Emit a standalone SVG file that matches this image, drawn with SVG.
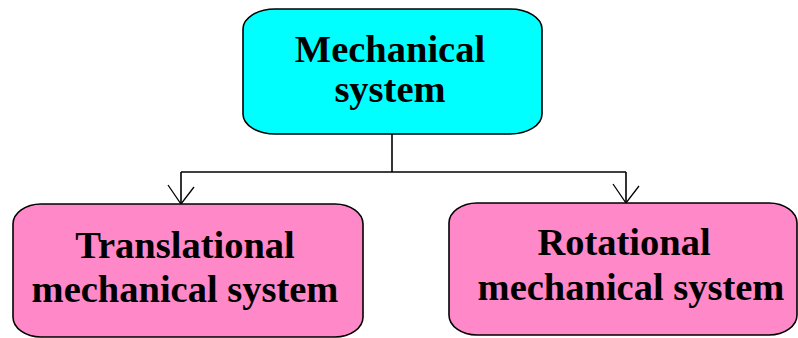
<svg xmlns="http://www.w3.org/2000/svg" width="798" height="338" viewBox="0 0 798 338">
<defs>
<style>
.box{stroke:#000;stroke-width:1.6}
.top{fill:#00FFFF}
.sub{fill:#FF88C8}
.lbl{font-family:"Liberation Serif","Times New Roman",serif;font-weight:bold;font-size:38.5px;fill:#000;text-anchor:middle}
.con{stroke:#000;stroke-width:1.6;fill:none}
</style>
<marker id="arr" viewBox="0 0 30 24" refX="14" refY="23" markerWidth="30" markerHeight="24" markerUnits="userSpaceOnUse" orient="0">
<path d="M1,4 L14,23 L27,6" fill="none" stroke="#000" stroke-width="1.3"/>
</marker>
</defs>
<rect width="798" height="338" fill="#fff"/>
<g id="connectors">
<path class="con" d="M392,134 V172"/>
<path class="con" d="M181,172 H626"/>
<path class="con" d="M181,172 V204" marker-end="url(#arr)"/>
<path class="con" d="M626,172 V203" marker-end="url(#arr)"/>
</g>
<g id="mechanical-system">
<rect class="box top" x="243" y="9" width="299" height="125" rx="32" ry="20"/>
<text class="lbl" x="390" y="62">Mechanical</text>
<text class="lbl" x="390" y="102">system</text>
</g>
<g id="translational">
<rect class="box sub" x="13" y="204" width="350" height="133" rx="28" ry="20"/>
<text class="lbl" x="185" y="258">Translational</text>
<text class="lbl" x="185" y="302">mechanical system</text>
</g>
<g id="rotational">
<rect class="box sub" x="449" y="203" width="348" height="132" rx="28" ry="20"/>
<text class="lbl" x="624" y="255">Rotational</text>
<text class="lbl" x="631" y="300">mechanical system</text>
</g>
</svg>
